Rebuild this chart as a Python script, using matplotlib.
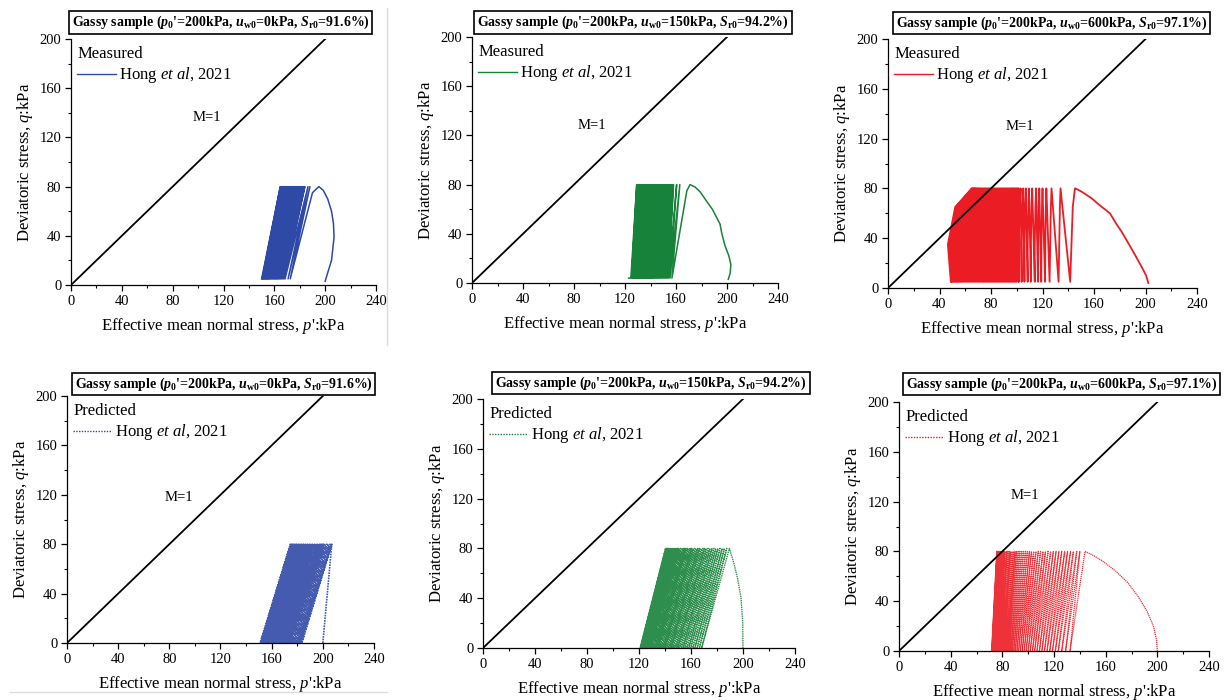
import matplotlib
matplotlib.use('Agg')
import matplotlib.pyplot as plt
from matplotlib.ticker import MultipleLocator
from matplotlib.lines import Line2D

plt.rcParams['font.family'] = ['Liberation Serif', 'DejaVu Serif']
plt.rcParams['mathtext.fontset'] = 'custom'
plt.rcParams['mathtext.rm'] = 'Liberation Serif'
plt.rcParams['mathtext.it'] = 'Liberation Serif:italic'
plt.rcParams['mathtext.bf'] = 'Liberation Serif:bold'
try:
    plt.rcParams['mathtext.bfit'] = 'Liberation Serif:bold:italic'
except KeyError:
    pass

# ---------------- data ----------------
# critical state line M=1
csl_p = [0, 200]
csl_q = [0, 200]

x_ticks = [0, 40, 80, 120, 160, 200, 240]
y_ticks = [0, 40, 80, 120, 160, 200]

titles = [
    r"Gassy sample ($\mathbfit{p}_{\mathbf{0}}$'=200kPa, $\mathbfit{u}_{\mathbf{w0}}$=0kPa, $\mathbfit{S}_{\mathbf{r0}}$=91.6%)",
    r"Gassy sample ($\mathbfit{p}_{\mathbf{0}}$'=200kPa, $\mathbfit{u}_{\mathbf{w0}}$=150kPa, $\mathbfit{S}_{\mathbf{r0}}$=94.2%)",
    r"Gassy sample ($\mathbfit{p}_{\mathbf{0}}$'=200kPa, $\mathbfit{u}_{\mathbf{w0}}$=600kPa, $\mathbfit{S}_{\mathbf{r0}}$=97.1%)",
]
legend_titles = ["Measured", "Predicted"]
series_label = r"Hong $\it{et\ al}$, 2021"

# ---- Measured, u_w0 = 0 kPa (blue) ----
mb_init_p = [200, 202, 205, 207, 206.5, 205, 202, 198.5, 195, 190]
mb_init_q = [3, 10, 20, 39, 50, 60, 70, 77, 80, 75]
mb_q_hi, mb_q_lo = 80, 5
mb_troughs = [172.5, 170.8, 168.4, 167.6, 166.8, 166.0, 165.3, 164.6, 163.9, 163.2,
              162.6, 162.0, 161.4, 160.8, 160.2, 159.6, 159.0, 158.4, 157.8, 157.2,
              156.6, 156.0, 155.5, 155.0, 154.5, 154.0, 153.5, 153.0, 152.5, 152.0,
              151.5, 151.0, 150.5, 150.0]
mb_peaks = [188.0, 186.5, 184.0, 183.3, 182.6, 181.9, 181.2, 180.5, 179.8, 179.1,
            178.4, 177.7, 177.0, 176.3, 175.6, 174.9, 174.2, 173.5, 172.8, 172.1,
            171.4, 170.7, 170.1, 169.5, 168.9, 168.3, 167.7, 167.2, 166.7, 166.2,
            165.7, 165.2, 164.7]

# ---- Measured, u_w0 = 150 kPa (green) ----
mg_init_p = [201, 202.5, 203, 201.5, 198.5, 196, 194.5, 193, 188.5, 185, 179, 175, 171, 168.5]
mg_init_q = [3, 8, 15, 22, 30, 40, 48, 51, 60, 65, 74, 78, 80, 75]
mg_q_hi, mg_q_lo = 80, 4
mg_troughs = [156.8, 155.3, 154.2, 153.2, 152.2, 151.2, 150.2, 149.2, 148.2, 147.2,
              146.3, 145.4, 144.5, 143.6, 142.7, 141.8, 141.0, 140.2, 139.4, 138.6,
              137.8, 137.0, 136.2, 135.4, 134.6, 133.9, 133.2, 132.5, 131.8, 131.1,
              130.4, 129.7, 129.0, 128.3, 127.6, 127.0, 126.4, 125.8, 125.2, 124.6,
              124.0, 123.4, 122.8]
mg_peaks = [163.0, 160.5, 158.0, 157.2, 156.2, 155.2, 154.2, 153.2, 152.2, 151.2,
            150.3, 149.4, 148.5, 147.6, 146.7, 145.8, 145.0, 144.2, 143.4, 142.6,
            141.8, 141.0, 140.2, 139.4, 138.6, 137.9, 137.2, 136.5, 135.8, 135.1,
            134.4, 133.7, 133.0, 132.3, 131.6, 131.0, 130.4, 129.8, 129.2]

# ---- Measured, u_w0 = 600 kPa (red) ----
mr_init_p = [202.2, 200.5, 197, 190, 181.6, 177, 172.4, 165, 158.2, 151, 146.5]
mr_init_q = [4, 10, 17, 30, 45, 52, 60, 66, 72, 77, 79.5]
mr_q_levels = [80, 65, 35, 5]   # peak, knee, mid, trough levels of each cycle
mr_peaks = [145.2, 134.0, 127.0, 123.0, 120.0, 117.5, 115.0, 112.0, 109.5, 107.0, 105.0, 103.0,
            101.5, 100.8, 100.1, 99.4, 98.7, 98.0, 97.3, 96.6, 95.9, 95.2,
            94.5, 93.8, 93.1, 92.4, 91.7, 91.0, 90.3, 89.6, 88.9, 88.2,
            87.5, 86.8, 86.1, 85.4, 84.7, 84.0, 83.3, 82.6, 81.9, 81.2,
            80.5, 79.8, 79.1, 78.4, 77.7, 77.0, 76.3, 75.6, 74.9, 74.2,
            73.5, 72.8, 72.1, 71.4, 70.8, 70.2, 69.6, 69.0, 68.4, 67.9,
            67.4, 66.9, 66.4, 65.9, 65.4, 65.0]
mr_knees = [143.5, 133.5, 126.5, 122.6, 119.6, 117.0, 114.5, 111.5, 109.0, 106.5, 104.5, 102.3,
            100.7, 99.8, 98.9, 97.9, 97.0, 96.1, 95.2, 94.3, 93.4, 92.4,
            91.5, 90.6, 89.7, 88.8, 87.8, 86.9, 86.0, 85.1, 84.2, 83.3,
            82.3, 81.4, 80.5, 79.6, 78.7, 77.7, 76.8, 75.9, 75.0, 74.1,
            73.2, 72.2, 71.3, 70.4, 69.5, 68.6, 67.7, 66.7, 65.8, 64.9,
            64.0, 63.1, 62.1, 61.2, 60.4, 59.6, 58.8, 58.0, 57.1, 56.4,
            55.7, 55.0, 54.3, 53.5, 52.8, 52.2]
mr_mids = [142.5, 133.0, 126.0, 122.2, 119.2, 116.6, 114.0, 111.0, 108.5, 106.0, 103.8, 101.5,
           99.8, 98.8, 97.8, 96.8, 95.8, 94.8, 93.8, 92.8, 91.8, 90.8,
           89.7, 88.7, 87.7, 86.7, 85.7, 84.7, 83.7, 82.7, 81.7, 80.7,
           79.7, 78.7, 77.7, 76.7, 75.7, 74.7, 73.7, 72.7, 71.7, 70.7,
           69.6, 68.6, 67.6, 66.6, 65.6, 64.6, 63.6, 62.6, 61.6, 60.6,
           59.6, 58.6, 57.6, 56.6, 55.7, 54.8, 53.9, 53.0, 52.1, 51.2,
           50.4, 49.6, 48.8, 48.0, 47.2, 46.5]
mr_troughs = [141.5, 132.5, 125.5, 122.0, 119.0, 116.5, 114.0, 111.0, 108.5, 106.0, 103.8, 101.5,
              99.8, 98.8, 97.9, 96.9, 95.9, 95.0, 94.0, 93.1, 92.1, 91.1,
              90.2, 89.2, 88.2, 87.3, 86.3, 85.3, 84.4, 83.4, 82.4, 81.5,
              80.5, 79.6, 78.6, 77.6, 76.7, 75.7, 74.7, 73.8, 72.8, 71.8,
              70.9, 69.9, 69.0, 68.0, 67.0, 66.1, 65.1, 64.1, 63.2, 62.2,
              61.2, 60.3, 59.3, 58.3, 57.5, 56.6, 55.8, 54.9, 54.0, 53.3,
              52.5, 51.7, 51.0, 50.2, 49.5, 48.8]

# ---- Predicted, u_w0 = 0 kPa (blue) ----
pb_init_p = [200, 207]
pb_init_q = [0, 80]
pb_q_hi, pb_q_lo = 80, 0
pb_troughs = [183.5, 182.2, 181.0, 179.8, 178.6, 177.5, 176.4, 175.3, 174.2, 173.2,
              172.2, 171.2, 170.2, 169.3, 168.4, 167.5, 166.6, 165.7, 164.9, 164.1,
              163.3, 162.5, 161.7, 160.9, 160.2, 159.5, 158.8, 158.1, 157.4, 156.7,
              156.0, 155.4, 154.8, 154.2, 153.6, 153.0, 152.4, 151.9, 151.4, 150.9]
pb_peaks = [206.8, 205.5, 204.3, 203.1, 201.9, 200.8, 199.7, 198.6, 197.5, 196.5,
            195.5, 194.5, 193.5, 192.6, 191.7, 190.8, 189.9, 189.0, 188.2, 187.4,
            186.6, 185.8, 185.0, 184.2, 183.5, 182.8, 182.1, 181.4, 180.7, 180.0,
            179.3, 178.7, 178.1, 177.5, 176.9, 176.3, 175.7, 175.2, 174.7]

# ---- Predicted, u_w0 = 150 kPa (green) ----
pg_init_p = [200, 199.8, 198.5, 196, 193, 189.5]
pg_init_q = [0, 20, 40, 55, 68, 80]
pg_q_hi, pg_q_lo = 80, 0
pg_troughs = [168.2, 166.4, 164.7, 163.0, 161.4, 159.8, 158.3, 156.8, 155.3, 153.9,
              152.5, 151.1, 149.8, 148.5, 147.2, 145.9, 144.7, 143.5, 142.3, 141.1,
              140.0, 138.9, 137.8, 136.7, 135.7, 134.7, 133.7, 132.7, 131.8, 130.9,
              130.0, 129.1, 128.3, 127.5, 126.7, 125.9, 125.1, 124.4, 123.7, 123.0,
              122.3, 121.7, 121.1, 120.8]
pg_peaks = [187.5, 185.7, 184.0, 182.3, 180.7, 179.1, 177.6, 176.1, 174.6, 173.2,
            171.8, 170.4, 169.1, 167.8, 166.5, 165.2, 164.0, 162.8, 161.6, 160.4,
            159.3, 158.2, 157.1, 156.0, 155.0, 154.0, 153.0, 152.0, 151.1, 150.2,
            149.3, 148.4, 147.6, 146.8, 146.0, 145.2, 144.4, 143.7, 143.0, 142.3,
            141.6, 141.0, 140.4]

# ---- Predicted, u_w0 = 600 kPa (red) ----
pr_init_p = [200, 199.5, 197, 192, 185, 177, 168, 158, 150, 144]
pr_init_q = [0, 8, 20, 32, 44, 55, 64, 72, 77, 80]
pr_q_hi, pr_q_lo = 80, 0
pr_troughs = [132.4, 129.0, 126.0, 123.3, 121.0, 118.8, 116.7, 114.6, 112.6, 110.6,
              108.7, 106.8, 105.0, 103.3, 101.6, 100.0, 98.4, 96.9, 95.4, 94.0,
              92.6, 91.3, 90.0, 88.8, 87.6, 86.5, 85.4, 84.4, 83.4, 82.5,
              81.6, 80.7, 79.9, 79.1, 78.4, 77.7, 77.0, 76.4, 75.8, 75.2,
              74.7, 74.2, 73.7, 73.3, 72.9, 72.5, 72.2, 71.9, 71.6]
pr_peaks = [140.0, 137.6, 135.0, 132.8, 130.5, 128.3, 126.0, 123.8, 121.6, 119.5,
            117.4, 115.4, 113.4, 111.5, 109.6, 107.8, 106.0, 104.3, 102.6, 101.0,
            99.4, 97.9, 96.4, 95.0, 93.6, 92.3, 91.0, 89.8, 88.6, 87.5,
            86.4, 85.4, 84.4, 83.5, 82.6, 81.8, 81.0, 80.3, 79.6, 79.0,
            78.4, 77.9, 77.4, 77.0, 76.6, 76.3, 76.0, 75.7]

# ---------------- helpers ----------------
def zigzag(init_p, init_q, peaks, troughs, q_hi, q_lo):
    P, Q = list(init_p), list(init_q)
    for i, t in enumerate(troughs):
        P.append(t); Q.append(q_lo)
        if i < len(peaks):
            P.append(peaks[i]); Q.append(q_hi)
    return P, Q


def curved_cycles(init_p, init_q, peaks, knees, mids, troughs, levels):
    P, Q = list(init_p), list(init_q)
    for a, b, c, d in zip(peaks, knees, mids, troughs):
        P += [a, b, c, d]
        Q += levels
    return P, Q


BLUE = '#2f49a6'
GREEN = '#17823a'
RED = '#ec1c24'

fig = plt.figure(figsize=(12.27, 7.0), dpi=100)
W, H = 1227.0, 700.0

# faint page-edge rules of the composite figure
fig.add_artist(Line2D([387 / W, 387 / W], [1 - 8 / H, 1 - 345 / H], color='#dcdcdc', lw=1.0))
fig.add_artist(Line2D([10 / W, 387 / W], [1 - 692 / H, 1 - 692 / H], color='#dcdcdc', lw=1.0))

def px_axes(x0, x1, ytop, ybot):
    return fig.add_axes([x0 / W, 1 - ybot / H, (x1 - x0) / W, (ybot - ytop) / H])

panels = [
    dict(box=(71, 376, 39, 285), tc=(220.5, 22.5), col=BLUE, kind=0, m1=(107, 136), lw=1.1,
         path=zigzag(mb_init_p, mb_init_q, mb_peaks, mb_troughs, mb_q_hi, mb_q_lo), title=titles[0]),
    dict(box=(472, 778, 37, 283), tc=(633, 22.5), col=GREEN, kind=0, m1=(94, 128), lw=1.1,
         path=zigzag(mg_init_p, mg_init_q, mg_peaks, mg_troughs, mg_q_hi, mg_q_lo), title=titles[1]),
    dict(box=(888, 1197, 39, 288), tc=(1051.5, 23), col=RED, kind=0, m1=(102.5, 130), lw=1.3,
         path=curved_cycles(mr_init_p, mr_init_q, mr_peaks, mr_knees, mr_mids, mr_troughs, mr_q_levels),
         title=titles[2]),
    dict(box=(67, 374, 396, 643), tc=(223.5, 384), col=BLUE, kind=1, m1=(87.5, 118), lw=1.2,
         path=zigzag(pb_init_p, pb_init_q, pb_peaks, pb_troughs, pb_q_hi, pb_q_lo), title=titles[0]),
    dict(box=(483, 795, 399, 648), tc=(651, 383), col=GREEN, kind=1, m1=None, lw=1.0,
         path=zigzag(pg_init_p, pg_init_q, pg_peaks, pg_troughs, pg_q_hi, pg_q_lo), title=titles[1]),
    dict(box=(899, 1209, 402, 651), tc=(1061.5, 384), col=RED, kind=1, m1=(97.5, 124.5), lw=0.9,
         path=zigzag(pr_init_p, pr_init_q, pr_peaks, pr_troughs, pr_q_hi, pr_q_lo), title=titles[2]),
]

for pnl in panels:
    ax = px_axes(*pnl['box'])
    P, Q = pnl['path']
    if pnl['kind'] == 0:
        line, = ax.plot(P, Q, color=pnl['col'], lw=pnl['lw'], zorder=2)
        hls = '-'
    else:
        line, = ax.plot(P, Q, color=pnl['col'], lw=pnl['lw'], linestyle=(0, (1, 0.6)), alpha=0.9, zorder=2)
        hls = (0, (1, 1))
    ax.plot(csl_p, csl_q, color='black', lw=1.3, zorder=3)
    if pnl['m1'] is not None:
        ax.text(pnl['m1'][0], pnl['m1'][1], 'M=1', fontsize=10.5, ha='center', va='center')

    ax.set_xlim(0, 240)
    ax.set_ylim(0, 200)
    ax.set_xticks(x_ticks)
    ax.set_yticks(y_ticks)
    ax.xaxis.set_minor_locator(MultipleLocator(20))
    ax.yaxis.set_minor_locator(MultipleLocator(20))
    for s in ('top', 'right'):
        ax.spines[s].set_visible(False)
    for s in ('left', 'bottom'):
        ax.spines[s].set_linewidth(0.9)
    ax.tick_params(which='major', direction='out', length=4, width=0.9, labelsize=10.5, pad=3)
    ax.tick_params(which='minor', direction='out', length=2.5, width=0.8)
    ax.set_xlabel("Effective mean normal stress, $p$':kPa", fontsize=12, labelpad=6)
    ax.set_ylabel("Deviatoric stress, $q$:kPa", fontsize=12, labelpad=3)

    h = Line2D([], [], color=pnl['col'], lw=1.0, linestyle=hls)
    ax.legend([h], [series_label], title=legend_titles[pnl['kind']], loc='upper left',
              bbox_to_anchor=(0.01, 0.985), frameon=False, fontsize=12, title_fontsize=12,
              alignment='left', handlelength=2.3, handletextpad=0.2, borderaxespad=0,
              borderpad=0.2, labelspacing=0.2)

    fig.text(pnl['tc'][0] / W, 1 - pnl['tc'][1] / H, pnl['title'], fontsize=10, fontweight='bold',
             ha='center', va='center',
             bbox=dict(boxstyle='square,pad=0.2', fc='white', ec='black', lw=1.2))

fig.savefig('out.png', dpi=100)
